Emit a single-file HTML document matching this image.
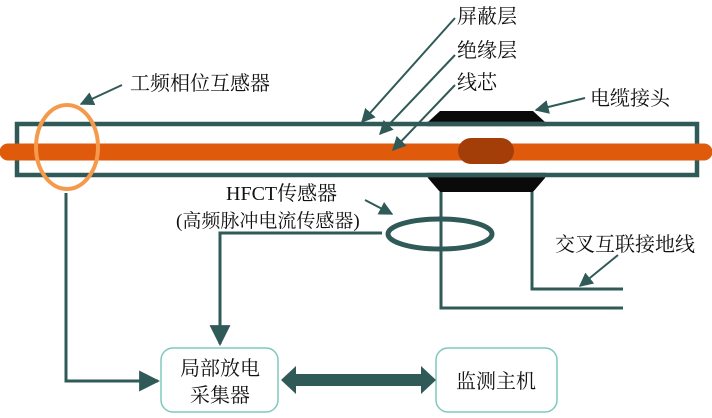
<!DOCTYPE html>
<html><head><meta charset="utf-8"><style>
html,body{margin:0;padding:0;background:#fff;}
text{font-family:"Liberation Serif","Noto Serif CJK SC",serif;font-size:20px;fill:#111;}
</style></head><body>
<svg width="712" height="413" viewBox="0 0 712 413" xmlns="http://www.w3.org/2000/svg">
<defs>
<marker id="a" viewBox="0 0 10 10" refX="9" refY="5" markerWidth="7" markerHeight="7" orient="auto"><path d="M0,0L10,5L0,10z" fill="#2f5a57"/></marker>
</defs>
<g stroke="#2f5a57" fill="none">
<path d="M440,111H533L545,122V178L533,192H440L428,178V122z" fill="#0a0a0a" stroke="none"/>
<rect x="17" y="124" width="680" height="51" stroke-width="4.5" fill="#fff" stroke="#2f5a57"/>
<rect x="440" y="127" width="93" height="45" fill="#fff" stroke="none"/>
<line x1="427" y1="124" x2="546" y2="124" stroke-width="4.5"/>
<line x1="427" y1="175" x2="546" y2="175" stroke-width="4.5"/>
<line x1="8" y1="152" x2="704" y2="152" stroke="#e05a0c" stroke-width="17" stroke-linecap="round"/>
<rect x="458" y="138" width="56" height="26" rx="13" fill="#a33e08" stroke="none"/>
<ellipse cx="67" cy="147" rx="31" ry="42" stroke="#f59a4c" stroke-width="4"/>
<g stroke-width="2">
<line x1="455" y1="18" x2="362" y2="122" marker-end="url(#a)"/>
<line x1="455" y1="55" x2="380" y2="134" marker-end="url(#a)"/>
<line x1="455" y1="85" x2="393" y2="150" marker-end="url(#a)"/>
<line x1="122" y1="85" x2="81" y2="104" marker-end="url(#a)"/>
<line x1="585" y1="98" x2="536" y2="110" marker-end="url(#a)"/>
<line x1="365" y1="200" x2="392" y2="214" marker-end="url(#a)"/>
<line x1="618" y1="255" x2="580" y2="286" marker-end="url(#a)"/>
</g>
<polyline points="441,192 441,308 623,308" stroke-width="3"/>
<polyline points="532,192 532,289 623,289" stroke-width="3"/>
<ellipse cx="440" cy="234" rx="52" ry="15" stroke-width="5"/>
<polyline points="382,233 220,233 220,344" stroke-width="3" marker-end="url(#a)"/>
<polyline points="66,193 66,381 158,381" stroke-width="3" marker-end="url(#a)"/>
<rect x="161" y="348" width="117" height="64" rx="12" stroke="#7ec8c0" stroke-width="1.5"/>
<rect x="436" y="348" width="121" height="64" rx="12" stroke="#7ec8c0" stroke-width="1.5"/>
<path d="M281,380L296,366V374H421V366L436,380L421,394V386H296V394z" fill="#2f5a57" stroke="none"/>
</g>
<text x="457" y="23">屏蔽层</text>
<text x="457" y="57">绝缘层</text>
<text x="457" y="89">线芯</text>
<text x="130" y="90">工频相位互感器</text>
<text x="590" y="105">电缆接头</text>
<text x="226" y="200">HFCT传感器</text>
<text x="176" y="227" style="font-size:19px">(高频脉冲电流传感器)</text>
<text x="555" y="251">交叉互联接地线</text>
<text x="180" y="375">局部放电</text>
<text x="190" y="402">采集器</text>
<text x="456" y="388">监测主机</text>
</svg>
</body></html>
